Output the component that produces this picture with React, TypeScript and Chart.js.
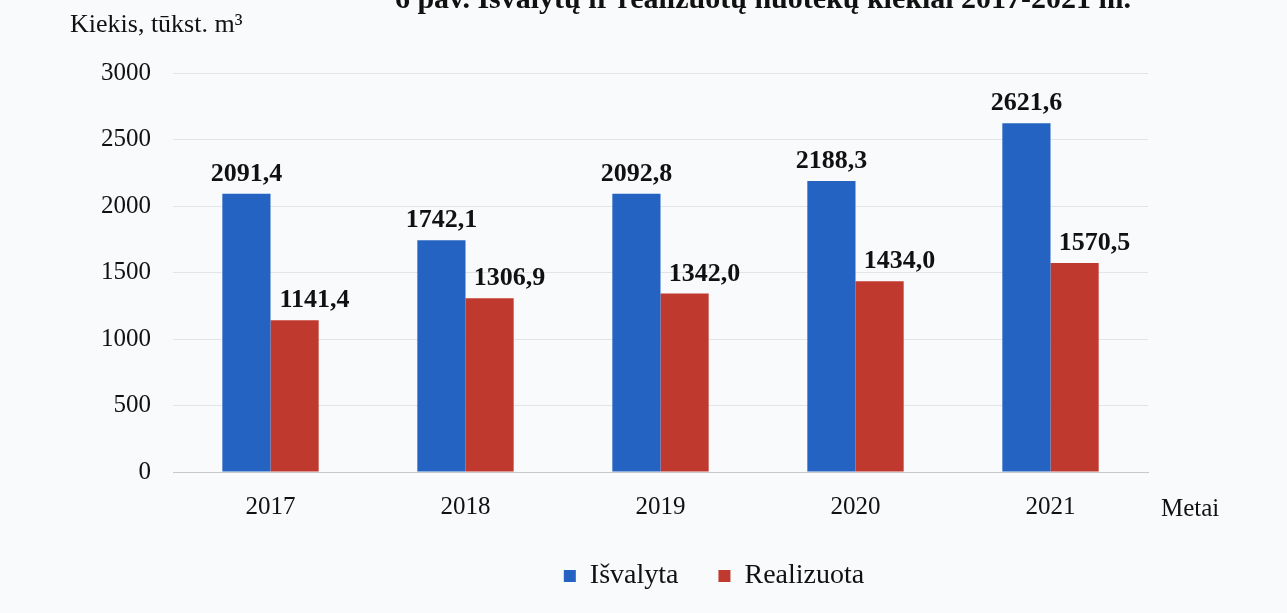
import React, { useEffect, useRef } from "react";
import { Chart, registerables } from "chart.js";

Chart.register(...registerables);

const categories = ["2017", "2018", "2019", "2020", "2021"];
const isvalyta = [2091.4, 1742.1, 2092.8, 2188.3, 2621.6];
const realizuota = [1141.4, 1306.9, 1342.0, 1434.0, 1570.5];
const seriesNames = ["Išvalyta", "Realizuota"];
const yTicks = [0, 500, 1000, 1500, 2000, 2500, 3000];
const titleText = "6 pav. Išvalytų ir realizuotų nuotekų kiekiai 2017-2021 m.";
const yAxisTitle = "Kiekis, tūkst. m³";
const xAxisTitle = "Metai";

const SERIF = "'Liberation Serif', 'Times New Roman', serif";
const BLUE = "#2563c2";
const RED = "#c0392e";
const BG = "#f9fafc";

const fmt = (v: number) => v.toFixed(1).replace(".", ",");

const extrasPlugin = {
  id: "extras",
  beforeDraw(chart: any) {
    const ctx = chart.ctx;
    ctx.save();
    ctx.fillStyle = BG;
    ctx.fillRect(0, 0, chart.width, chart.height);
    ctx.restore();
  },
  afterLayout(chart: any) {
    const lg = chart.legend;
    if (lg) {
      lg.left += 140;
      lg.right += 140;
    }
  },
  afterDatasetsDraw(chart: any) {
    const ctx = chart.ctx;
    ctx.save();
    ctx.fillStyle = "#111";
    ctx.font = `bold 26px ${SERIF}`;
    ctx.textAlign = "center";
    ctx.textBaseline = "alphabetic";
    const offsets = [0, 20];
    chart.data.datasets.forEach((ds: any, di: number) => {
      const meta = chart.getDatasetMeta(di);
      meta.data.forEach((bar: any, i: number) => {
        ctx.fillText(fmt(ds.data[i]), bar.x + offsets[di], bar.y - 13);
      });
    });
    // title (partially cut at top)
    ctx.font = `bold 30px ${SERIF}`;
    ctx.fillText(titleText, 763, 8);
    // axis titles
    ctx.font = `26px ${SERIF}`;
    ctx.textAlign = "left";
    ctx.fillText(yAxisTitle, 70, 32);
    ctx.font = `25px ${SERIF}`;
    ctx.fillText(xAxisTitle, 1161, 516);
    ctx.restore();
  },
};

export default function App() {
  const ref = useRef<HTMLCanvasElement | null>(null);
  useEffect(() => {
    document.body.style.margin = "0";
    document.body.style.background = BG;
    const chart = new Chart(ref.current as HTMLCanvasElement, {
      type: "bar",
      data: {
        labels: categories,
        datasets: [
          { label: seriesNames[0], data: isvalyta, backgroundColor: BLUE, categoryPercentage: 0.494, barPercentage: 1 },
          { label: seriesNames[1], data: realizuota, backgroundColor: RED, categoryPercentage: 0.494, barPercentage: 1 },
        ],
      },
      plugins: [extrasPlugin],
      options: {
        animation: false,
        responsive: false,
        layout: { padding: { top: 73, right: 139, left: 0, bottom: 13 } },
        plugins: {
          legend: {
            position: "bottom",
            labels: {
              color: "#111",
              font: { family: SERIF, size: 28 },
              boxWidth: 12,
              boxHeight: 12,
              padding: 40,
            },
          },
          tooltip: { enabled: false },
        },
        scales: {
          x: {
            grid: { display: false },
            border: { display: true, color: "#c9c9c9", width: 1 },
            ticks: { color: "#111", font: { family: SERIF, size: 25 }, padding: 12 },
            afterFit(scale: any) {
              scale.height = 50;
            },
          },
          y: {
            min: 0,
            max: 3000,
            afterBuildTicks(scale: any) {
              scale.ticks = yTicks.map((v) => ({ value: v }));
            },
            grid: { color: "#e3e4e6", drawTicks: false },
            border: { display: false },
            ticks: {
              color: "#111",
              font: { family: SERIF, size: 25 },
              padding: 22,
              callback: (v: any) => String(v),
            },
            afterFit(scale: any) {
              scale.width = 173;
            },
          },
        },
      },
    });
    return () => chart.destroy();
  }, []);
  return (
    <div style={{ position: "absolute", left: 0, top: 0, width: 1287, height: 613, background: BG }}>
      <canvas ref={ref} width={1287} height={613} style={{ width: 1287, height: 613 }} />
    </div>
  );
}
